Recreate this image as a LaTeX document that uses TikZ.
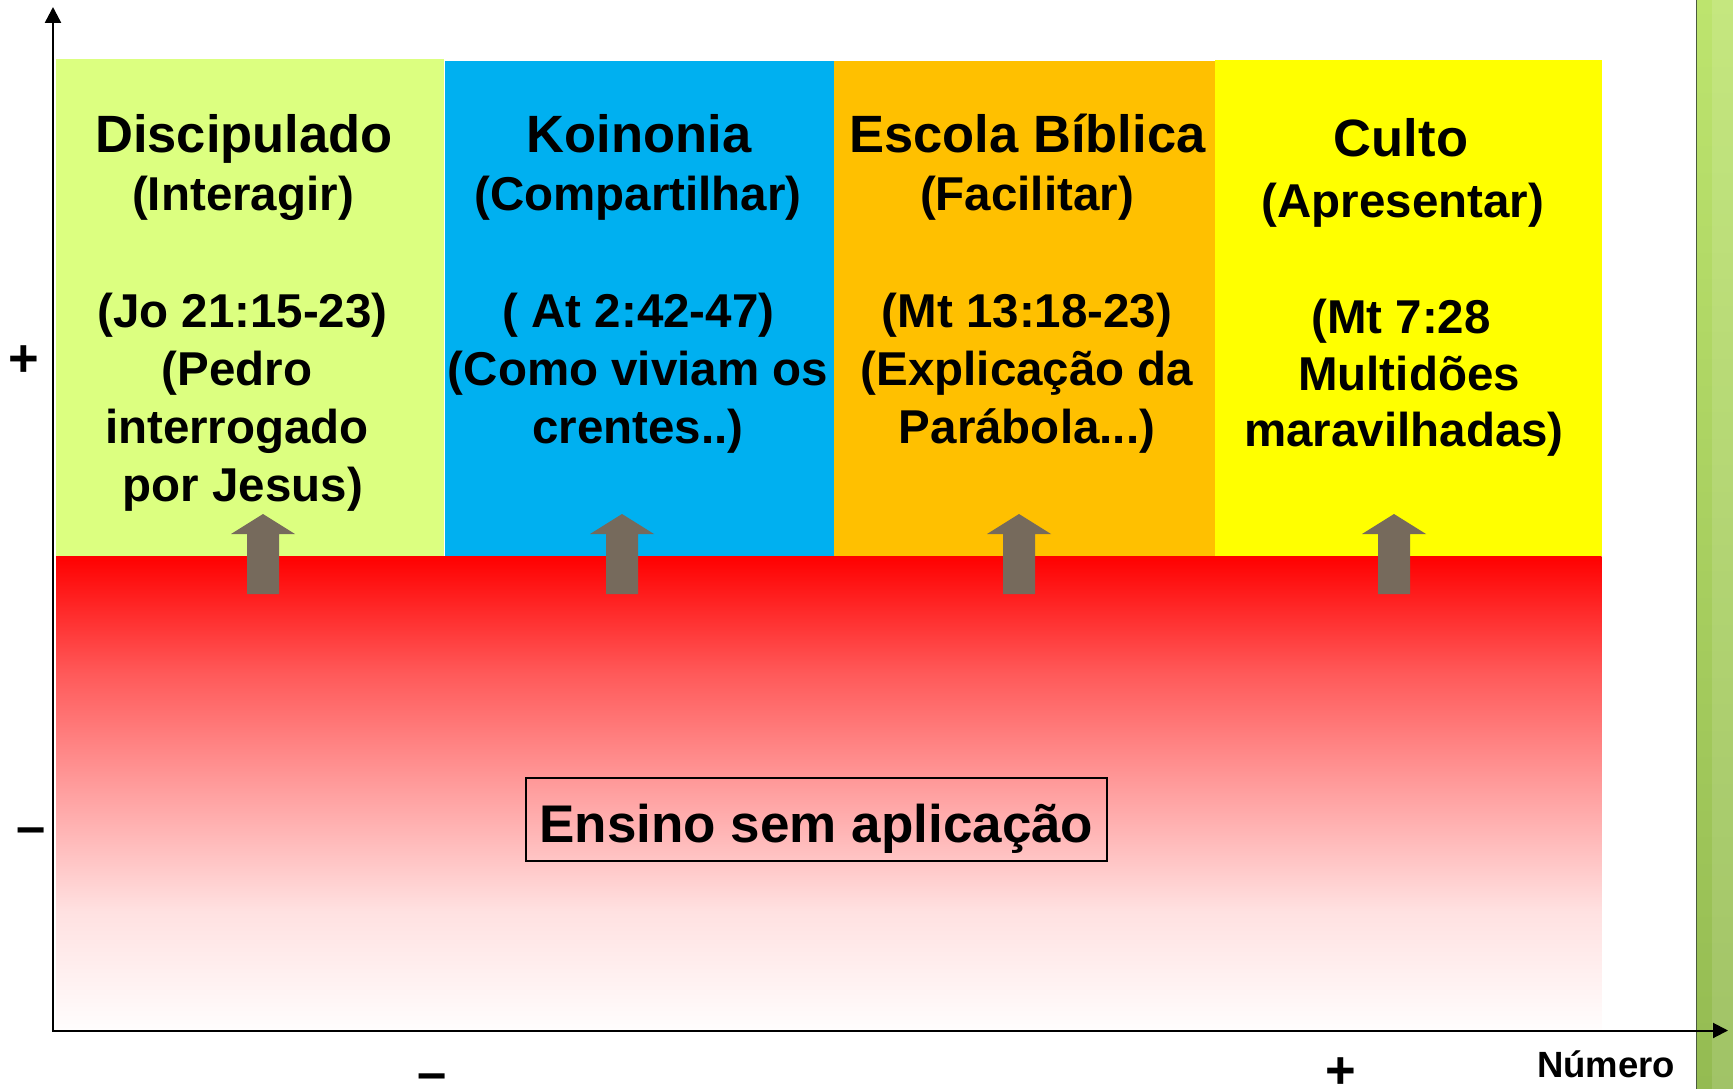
\documentclass[tikz,border=0pt]{standalone}
\usepackage{fontspec}
\setmainfont{Liberation Sans}
\usetikzlibrary{arrows.meta}
\definecolor{pgreen}{HTML}{DCFF80}
\definecolor{pblue}{HTML}{00B0F0}
\definecolor{porange}{HTML}{FFC000}
\definecolor{pyellow}{HTML}{FFFF00}
\definecolor{arrowc}{HTML}{766A5C}
\definecolor{stripTop}{HTML}{BDE46E}
\definecolor{stripBot}{HTML}{94BB52}
\definecolor{stripEdge}{HTML}{4B5A3F}
\definecolor{rfA}{RGB}{255,0,0}
\definecolor{rfB}{RGB}{255,90,90}
\definecolor{rfC}{RGB}{255,160,160}
\definecolor{rfD}{RGB}{255,225,225}
\definecolor{rfE}{RGB}{255,253,253}
\pgfdeclareverticalshading{redfade}{100bp}{color(0bp)=(rfE); color(25bp)=(rfE); color(37.5bp)=(rfD); color(50bp)=(rfC); color(62.5bp)=(rfB); color(75bp)=(rfA); color(100bp)=(rfA)}
\tikzset{
  ttl/.style={font=\fontsize{52.5}{58}\selectfont\bfseries, anchor=base, inner sep=0pt},
  txt/.style={font=\fontsize{47.5}{54}\selectfont\bfseries, anchor=base, inner sep=0pt},
  bigtxt/.style={font=\fontsize{53}{58}\selectfont\bfseries, anchor=base, inner sep=0pt},
  axlbl/.style={font=\fontsize{52.5}{58}\selectfont\bfseries, anchor=base, inner sep=0pt},
  numlbl/.style={font=\fontsize{36.5}{40}\selectfont\bfseries, anchor=base, inner sep=0pt},
  axisline/.style={line width=2.5pt, black},
}
\begin{document}
\begin{tikzpicture}[x=1pt, y=-1pt]
\useasboundingbox (0,0) rectangle (1733,1089);
\fill[white] (0,0) rectangle (1733,1089);
% right green strip
\shade[top color=stripTop, bottom color=stripBot] (1696,0) rectangle (1733,1089);
\fill[white, opacity=0.12] (1712,0) rectangle (1733,1089);
\draw[stripEdge, line width=1.5pt] (1696.5,0) -- (1696.5,1089);
% panels
\fill[pgreen] (56,59) rectangle (443.5,556);
\fill[pblue] (445,61) rectangle (833.5,556);
\fill[porange] (833.5,61) rectangle (1215,556);
\fill[pyellow] (1215,60) rectangle (1601.5,556);
% red fade region
\shade[shading=redfade] (56,556) rectangle (1601.5,1030);
% arrows
\foreach \ax in {263,622,1019,1394}{
  \fill[arrowc] ({\ax-16},594) -- ({\ax-16},534) -- ({\ax-32},534) -- (\ax,514)
    -- ({\ax+32},534) -- ({\ax+16},534) -- ({\ax+16},594) -- cycle;
}
% panel 1
\node[ttl] (d1) at (244,153) {Discipulado};
\node[txt] (d2) at (243,211) {(Interagir)};
\node[txt] (d3) at (242.5,327.5) {(Jo 21:15-23)};
\node[txt] (d4) at (237,385.5) {(Pedro};
\node[txt] (d5) at (237,443) {interrogado};
\node[txt] (d6) at (243,501) {por Jesus)};
% panel 2
\node[ttl] (k1) at (639,153) {Koinonia};
\node[txt] (k2) at (638,211) {(Compartilhar)};
\node[txt] (k3) at (638.5,327.5) {( At 2:42-47)};
\node[txt] (k4) at (638,385.5) {(Como viviam os};
\node[txt] (k5) at (638,443) {crentes..)};
% panel 3
\node[ttl] (e1) at (1027.5,153) {Escola Bíblica};
\node[txt] (e2) at (1027,211) {(Facilitar)};
\node[txt] (e3) at (1027,327) {(Mt 13:18-23)};
\node[txt] (e4) at (1027,385) {(Explicação da};
\node[txt] (e5) at (1027,443.5) {Parábola...)};
% panel 4
\node[ttl] (c1) at (1401,157) {Culto};
\node[txt] (c2) at (1403,218) {(Apresentar)};
\node[txt] (c3) at (1401,333.5) {(Mt 7:28};
\node[txt] (c4) at (1409,390) {Multidões};
\node[txt] (c5) at (1404,446) {maravilhadas)};
% Ensino box
\draw[line width=1.5pt] (526,778) rectangle (1107,861);
\node[bigtxt] (ensino) at (816.5,842) {Ensino sem aplicação};
% axes
\coordinate (O) at (53,1030.5);
\coordinate (ytip) at (53,7);
\coordinate (xtip) at (1728,1030.5);
\draw[axisline, -{Triangle[width=16pt,length=16pt]}] (53,1031.5) -- (ytip);
\draw[line width=2pt, -{Triangle[width=15pt,length=15pt]}] (O) -- (xtip);
% axis labels
\node[axlbl] (yplus) at (24,376) {+};
\node[axlbl] (yminus) at (31,844) {–};
\node[axlbl] (xminus) at (432,1090) {–};
\node[axlbl] (xplus) at (1341,1088.5) {+};
\node[numlbl] (numero) at (1606,1077.5) {Número};
\end{tikzpicture}
\end{document}
